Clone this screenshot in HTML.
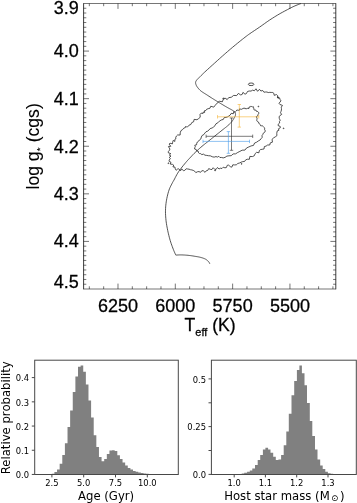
<!DOCTYPE html>
<html lang="en">
<head>
<meta charset="utf-8">
<title>Stellar evolutionary track and posterior distributions</title>
<style>
html,body{margin:0;padding:0;background:#fff;}
body{width:357px;height:503px;overflow:hidden;}
svg{display:block;}
text{white-space:pre;}
</style>
</head>
<body>
<svg width="357" height="503" viewBox="0 0 357 503">
<rect x="0" y="0" width="357" height="503" fill="#fff"/>
<g id="topplot" fill="none" stroke="#1a1a1a" stroke-width="0.75">
<path d="M83.6 3.2 V289.3 M335.8 3.2 V289.3" stroke-width="0.85"/>
<path d="M83.6 3.5 H335.8 M83.6 289 H335.8" stroke-width="0.6"/>
<path d="M89.33 289 v-2.7 M89.33 3.5 v2.7 M103.66 289 v-2.7 M103.66 3.5 v2.7 M117.99 289 v-5.4 M117.99 3.5 v5.4 M132.32 289 v-2.7 M132.32 3.5 v2.7 M146.65 289 v-2.7 M146.65 3.5 v2.7 M160.98 289 v-2.7 M160.98 3.5 v2.7 M175.31 289 v-5.4 M175.31 3.5 v5.4 M189.64 289 v-2.7 M189.64 3.5 v2.7 M203.97 289 v-2.7 M203.97 3.5 v2.7 M218.3 289 v-2.7 M218.3 3.5 v2.7 M232.63 289 v-5.4 M232.63 3.5 v5.4 M246.96 289 v-2.7 M246.96 3.5 v2.7 M261.29 289 v-2.7 M261.29 3.5 v2.7 M275.62 289 v-2.7 M275.62 3.5 v2.7 M289.95 289 v-5.4 M289.95 3.5 v5.4 M304.28 289 v-2.7 M304.28 3.5 v2.7 M318.6 289 v-2.7 M318.6 3.5 v2.7 M332.93 289 v-2.7 M332.93 3.5 v2.7 M83.6 8.26 h2.7 M335.8 8.26 h-2.7 M83.6 13.02 h2.7 M335.8 13.02 h-2.7 M83.6 17.77 h2.7 M335.8 17.77 h-2.7 M83.6 22.53 h2.7 M335.8 22.53 h-2.7 M83.6 27.29 h2.7 M335.8 27.29 h-2.7 M83.6 32.05 h2.7 M335.8 32.05 h-2.7 M83.6 36.81 h2.7 M335.8 36.81 h-2.7 M83.6 41.57 h2.7 M335.8 41.57 h-2.7 M83.6 46.32 h2.7 M335.8 46.32 h-2.7 M83.6 51.08 h5.4 M335.8 51.08 h-5.4 M83.6 55.84 h2.7 M335.8 55.84 h-2.7 M83.6 60.6 h2.7 M335.8 60.6 h-2.7 M83.6 65.36 h2.7 M335.8 65.36 h-2.7 M83.6 70.12 h2.7 M335.8 70.12 h-2.7 M83.6 74.87 h2.7 M335.8 74.87 h-2.7 M83.6 79.63 h2.7 M335.8 79.63 h-2.7 M83.6 84.39 h2.7 M335.8 84.39 h-2.7 M83.6 89.15 h2.7 M335.8 89.15 h-2.7 M83.6 93.91 h2.7 M335.8 93.91 h-2.7 M83.6 98.67 h5.4 M335.8 98.67 h-5.4 M83.6 103.43 h2.7 M335.8 103.43 h-2.7 M83.6 108.18 h2.7 M335.8 108.18 h-2.7 M83.6 112.94 h2.7 M335.8 112.94 h-2.7 M83.6 117.7 h2.7 M335.8 117.7 h-2.7 M83.6 122.46 h2.7 M335.8 122.46 h-2.7 M83.6 127.22 h2.7 M335.8 127.22 h-2.7 M83.6 131.98 h2.7 M335.8 131.98 h-2.7 M83.6 136.73 h2.7 M335.8 136.73 h-2.7 M83.6 141.49 h2.7 M335.8 141.49 h-2.7 M83.6 146.25 h5.4 M335.8 146.25 h-5.4 M83.6 151.01 h2.7 M335.8 151.01 h-2.7 M83.6 155.77 h2.7 M335.8 155.77 h-2.7 M83.6 160.52 h2.7 M335.8 160.52 h-2.7 M83.6 165.28 h2.7 M335.8 165.28 h-2.7 M83.6 170.04 h2.7 M335.8 170.04 h-2.7 M83.6 174.8 h2.7 M335.8 174.8 h-2.7 M83.6 179.56 h2.7 M335.8 179.56 h-2.7 M83.6 184.32 h2.7 M335.8 184.32 h-2.7 M83.6 189.08 h2.7 M335.8 189.08 h-2.7 M83.6 193.83 h5.4 M335.8 193.83 h-5.4 M83.6 198.59 h2.7 M335.8 198.59 h-2.7 M83.6 203.35 h2.7 M335.8 203.35 h-2.7 M83.6 208.11 h2.7 M335.8 208.11 h-2.7 M83.6 212.87 h2.7 M335.8 212.87 h-2.7 M83.6 217.62 h2.7 M335.8 217.62 h-2.7 M83.6 222.38 h2.7 M335.8 222.38 h-2.7 M83.6 227.14 h2.7 M335.8 227.14 h-2.7 M83.6 231.9 h2.7 M335.8 231.9 h-2.7 M83.6 236.66 h2.7 M335.8 236.66 h-2.7 M83.6 241.42 h5.4 M335.8 241.42 h-5.4 M83.6 246.18 h2.7 M335.8 246.18 h-2.7 M83.6 250.93 h2.7 M335.8 250.93 h-2.7 M83.6 255.69 h2.7 M335.8 255.69 h-2.7 M83.6 260.45 h2.7 M335.8 260.45 h-2.7 M83.6 265.21 h2.7 M335.8 265.21 h-2.7 M83.6 269.97 h2.7 M335.8 269.97 h-2.7 M83.6 274.72 h2.7 M335.8 274.72 h-2.7 M83.6 279.48 h2.7 M335.8 279.48 h-2.7 M83.6 284.24 h2.7 M335.8 284.24 h-2.7" stroke-width="0.6"/>
<path d="M301 3.5 L300.33 3.76 L299.41 4.1 L298.32 4.52 L297.14 4.97 L295.98 5.44 L294.9 5.9 L293.95 6.33 L293.06 6.74 L292.18 7.17 L291.25 7.64 L290.21 8.17 L289 8.8 L287.59 9.54 L286.02 10.36 L284.34 11.25 L282.61 12.19 L280.88 13.14 L279.2 14.1 L277.57 15.06 L275.93 16.04 L274.3 17.05 L272.67 18.08 L271.03 19.13 L269.4 20.2 L267.77 21.31 L266.13 22.45 L264.5 23.62 L262.87 24.79 L261.23 25.96 L259.6 27.1 L257.92 28.24 L256.19 29.4 L254.46 30.55 L252.79 31.67 L251.21 32.73 L249.8 33.7 L248.62 34.53 L247.66 35.23 L246.8 35.87 L245.94 36.53 L244.98 37.28 L243.8 38.2 L242.39 39.31 L240.81 40.56 L239.14 41.91 L237.41 43.3 L235.68 44.72 L234 46.1 L232.37 47.47 L230.73 48.85 L229.1 50.24 L227.47 51.65 L225.83 53.07 L224.2 54.5 L222.57 55.94 L220.93 57.4 L219.3 58.87 L217.67 60.34 L216.03 61.82 L214.4 63.3 L212.72 64.81 L210.99 66.37 L209.26 67.94 L207.58 69.46 L206.01 70.89 L204.6 72.2 L203.35 73.38 L202.21 74.49 L201.18 75.5 L200.26 76.43 L199.43 77.26 L198.7 78 L198.09 78.61 L197.61 79.1 L197.23 79.49 L196.92 79.83 L196.65 80.16 L196.4 80.5 L196.17 80.85 L195.98 81.18 L195.84 81.49 L195.73 81.79 L195.65 82.09 L195.6 82.4 L195.57 82.71 L195.58 83.01 L195.62 83.31 L195.69 83.61 L195.78 83.94 L195.9 84.3 L196.03 84.68 L196.18 85.07 L196.35 85.47 L196.57 85.91 L196.84 86.38 L197.2 86.9 L197.63 87.47 L198.11 88.1 L198.66 88.77 L199.27 89.45 L199.95 90.13 L200.7 90.8 L201.53 91.44 L202.45 92.08 L203.43 92.71 L204.46 93.36 L205.53 94.02 L206.6 94.7 L207.72 95.43 L208.89 96.19 L210.1 96.97 L211.31 97.74 L212.48 98.5 L213.6 99.2 L214.65 99.86 L215.67 100.48 L216.66 101.08 L217.62 101.66 L218.56 102.23 L219.5 102.8 L220.43 103.37 L221.35 103.93 L222.26 104.47 L223.14 105.01 L223.99 105.52 L224.8 106 L225.58 106.46 L226.33 106.89 L227.04 107.3 L227.73 107.69 L228.38 108.06 L229 108.4 L229.58 108.71 L230.12 108.99 L230.63 109.25 L231.1 109.5 L231.56 109.74 L232 110 L232.43 110.27 L232.83 110.53 L233.22 110.8 L233.58 111.07 L233.91 111.33 L234.2 111.6 L234.46 111.87 L234.68 112.13 L234.87 112.4 L235.04 112.67 L235.18 112.93 L235.3 113.2 L235.39 113.47 L235.46 113.73 L235.5 114 L235.52 114.27 L235.52 114.53 L235.5 114.8 L235.47 115.05 L235.42 115.29 L235.36 115.53 L235.27 115.79 L235.15 116.07 L235 116.4 L234.81 116.79 L234.59 117.21 L234.34 117.68 L234.07 118.15 L233.78 118.63 L233.5 119.1 L233.21 119.56 L232.92 120.03 L232.62 120.5 L232.3 120.97 L231.96 121.44 L231.6 121.9 L231.21 122.36 L230.79 122.82 L230.36 123.28 L229.91 123.73 L229.45 124.17 L229 124.6 L228.55 125.02 L228.1 125.42 L227.64 125.81 L227.17 126.2 L226.69 126.6 L226.2 127 L225.73 127.38 L225.3 127.71 L224.86 128.05 L224.36 128.43 L223.76 128.9 L223 129.5 L222.05 130.25 L220.95 131.14 L219.74 132.11 L218.47 133.12 L217.21 134.13 L216 135.1 L214.83 136.03 L213.67 136.97 L212.5 137.9 L211.33 138.83 L210.17 139.77 L209 140.7 L207.83 141.63 L206.67 142.54 L205.5 143.46 L204.33 144.38 L203.17 145.33 L202 146.3 L200.8 147.33 L199.56 148.42 L198.33 149.53 L197.13 150.61 L196 151.65 L195 152.6 L194.15 153.43 L193.43 154.16 L192.78 154.84 L192.16 155.51 L191.52 156.22 L190.8 157 L190.03 157.82 L189.24 158.65 L188.43 159.51 L187.58 160.43 L186.68 161.45 L185.7 162.6 L184.6 163.92 L183.39 165.4 L182.12 166.98 L180.86 168.6 L179.66 170.19 L178.6 171.7 L177.66 173.19 L176.78 174.71 L175.97 176.22 L175.23 177.64 L174.58 178.92 L174 180 L173.55 180.79 L173.24 181.31 L173.01 181.69 L172.8 182.05 L172.55 182.51 L172.2 183.2 L171.74 184.1 L171.21 185.11 L170.64 186.22 L170.07 187.43 L169.51 188.72 L169 190.1 L168.53 191.6 L168.06 193.23 L167.61 194.96 L167.2 196.72 L166.82 198.49 L166.5 200.2 L166.23 201.87 L166 203.54 L165.81 205.2 L165.67 206.86 L165.56 208.53 L165.5 210.2 L165.48 211.88 L165.51 213.56 L165.58 215.24 L165.69 216.93 L165.83 218.62 L166 220.3 L166.2 221.98 L166.45 223.67 L166.72 225.35 L167.03 227.03 L167.36 228.72 L167.7 230.4 L168.06 232.1 L168.45 233.81 L168.86 235.53 L169.29 237.23 L169.74 238.89 L170.2 240.5 L170.69 242.08 L171.21 243.64 L171.75 245.17 L172.29 246.64 L172.81 248.02 L173.3 249.3 L173.78 250.51 L174.27 251.67 L174.74 252.75 L175.17 253.71 L175.53 254.5 L175.8 255.1 L175.8 255.1 L176.31 255.07 L177.01 255.03 L177.84 254.99 L178.74 254.94 L179.65 254.91 L180.5 254.9 L181.3 254.91 L182.11 254.93 L182.93 254.96 L183.74 255 L184.57 255.04 L185.4 255.1 L186.24 255.16 L187.09 255.23 L187.94 255.31 L188.8 255.4 L189.65 255.5 L190.5 255.6 L191.35 255.72 L192.21 255.85 L193.07 255.99 L193.91 256.13 L194.73 256.27 L195.5 256.4 L196.23 256.52 L196.93 256.63 L197.59 256.74 L198.24 256.85 L198.87 256.97 L199.5 257.1 L200.12 257.25 L200.74 257.41 L201.34 257.58 L201.92 257.75 L202.47 257.92 L203 258.1 L203.49 258.27 L203.96 258.44 L204.39 258.62 L204.81 258.8 L205.21 258.99 L205.6 259.2 L205.97 259.43 L206.33 259.67 L206.68 259.93 L207 260.19 L207.31 260.45 L207.6 260.7 L207.88 260.95 L208.13 261.19 L208.38 261.44 L208.6 261.69 L208.81 261.94 L209 262.2 L209.18 262.49 L209.34 262.81 L209.49 263.14 L209.61 263.45 L209.72 263.71 L209.8 263.9" stroke-linejoin="miter"/>
<path d="M254.38 90.76 L252.6 90.16 L251.04 91.1 L249.14 91.01 L247.47 91.53 L246.39 93.6 L245 94.2 L242.95 92.37 L242.19 94.4 L240.77 94.96 L238.35 93.43 L236.61 95.6 L233.67 95.42 L231.29 97.27 L228.69 97.61 L227.19 99.57 L225.7 98.53 L225.13 97.93 L224.95 98.95 L224.2 98.56 L223.26 99.26 L222.42 101.75 L219.25 101.26 L217.14 103.1 L215.28 105.23 L213.75 107.14 L210.75 106.25 L209.94 108.25 L208.17 108.7 L206.67 109.27 L205.83 110.5 L204.53 110.69 L204.64 112.47 L203.24 112.01 L203.08 113.43 L201.18 113.14 L200.05 114.35 L200.19 117.28 L198.65 118.56 L196.99 119.75 L194.12 119.37 L193.64 121.77 L191.75 122.58 L190.82 124.51 L189.09 125.11 L188.21 126.26 L187.57 126.9 L186.78 126.66 L186.52 126.87 L185.53 126.53 L185.33 127.62 L183.79 128.12 L182.64 129.55 L180.95 130.69 L180.23 132.76 L180.14 135.04 L177.59 134.98 L176.44 136.05 L175.78 137.31 L175.82 138.94 L174.75 139.58 L174.94 141.38 L173.08 140.5 L172.75 141.61 L172.57 142.79 L172.47 143.81 L170.03 143.26 L169.05 144.05 L170.8 146.29 L168.46 146.54 L169.26 147.94 L169.92 149.03 L169.57 150.12 L168.37 151.5 L168.27 152.76 L170.81 153.66 L169.27 155.02 L171 156.09 L169.16 157.47 L170.43 158.52 L169.13 160.07 L169.22 161.44 L170.97 162.25 L170.15 164.04 L172.51 164.38 L173.67 165.11 L172.94 166.89 L174.93 167.04 L175.12 168.15 L175.39 169.27 L176.1 170.31 L177.41 169.17 L178.6 168.73 L180.48 170.82 L181.73 168.94 L183.42 170.62 L184.8 170.37 L186.16 168.78 L187.62 168.98 L189.06 169.19 L190.42 169.71 L191.84 169.94 L193.28 170.39 L194.63 171.17 L195.81 172.6 L197.6 171.72 L199.03 171.57 L200.54 172.33 L201.81 170.75 L203.27 170.69 L205.06 172.36 L206.24 170.77 L207.68 170.48 L208.7 168.59 L210.43 169.35 L211.94 169.53 L213.17 167.73 L214.76 169.33 L216.18 169.29 L217.44 167.52 L219.06 168.96 L220.42 168.22 L222.02 168.48 L223.24 167.19 L224.93 167.82 L226.35 167.57 L227.3 165.26 L228.65 165.13 L230.29 166.65 L231.85 167.17 L232.81 164.8 L234.54 164.93 L236.32 164.8 L237.78 163.49 L239.51 163 L241.09 162.2 L242.71 161.64 L244.54 161.47 L245.65 159.9 L247.27 159.23 L249.42 159.27 L249.83 156.42 L252.36 156.58 L254.28 155.79 L255.16 153.63 L256.54 152.34 L258.91 152.78 L259.36 150.53 L260.58 149.56 L262.27 149.29 L264.04 148.96 L264.37 146.57 L266.12 146.08 L267.49 145.06 L269.79 144.98 L270.27 142.88 L272.44 142.16 L272.04 139.33 L273.58 137.92 L275.41 136.75 L276.94 135.6 L276.75 133.6 L276.99 132.03 L277.4 130.78 L279 130.21 L278.42 128.82 L280.3 127.79 L280.24 126.46 L278.12 125.59 L278.18 124.25 L279.69 122.96 L279.41 121.61 L280.21 120.31 L279.32 118.51 L279.12 116.88 L279.91 115.56 L281.65 114.47 L280.52 112.71 L281.03 111.36 L281.43 110.01 L281.47 108.61 L281.29 107.18 L282.46 105.39 L279.91 104.49 L279.03 103.27 L280.97 100.86 L280.12 99.57 L279.6 98.06 L277.42 97.71 L277.64 95.61 L276.53 94.58 L274.2 95.34 L273.88 93.37 L272.74 92.52 L271.27 92.45 L269.82 92.35 L268.28 92.54 L266.95 92.02 L265.46 92.01 L263.91 92.19 L262.64 90.45 L260.92 91.06 L259.48 89.31 L257.57 91.32 L255.98 88.76 Z"/>
<path d="M250.81 106.28 L250.34 106.92 L249.06 107.02 L248.94 108.51 L247.68 108.34 L246.81 108.65 L245.73 108.9 L245.02 107.88 L244.13 108.59 L243.2 108.08 L242.48 108.97 L241.59 109.29 L240.55 109.12 L239.59 108.8 L239.57 110.16 L238.92 110.33 L237.9 110.11 L236.82 110.08 L236.23 111.12 L235.39 111.94 L233.81 111.69 L233.3 113.77 L231.22 113.33 L230.22 114.99 L228.9 116.02 L227.57 116.87 L226.06 117.41 L224.21 117.57 L223.3 119.45 L221.24 120.01 L219.37 121.17 L217.81 122.82 L215.95 123.84 L214.99 125.7 L213.62 126.95 L212.1 128 L210.21 128.56 L209.04 129.97 L207.69 131.12 L206.01 131.75 L204.86 133.06 L203.9 134.53 L202.16 135.47 L201.29 137.02 L200.95 138.85 L199.55 139.82 L198.71 141.11 L197.36 141.98 L196.78 143.27 L196.56 144.82 L194.77 145.17 L195.4 146.91 L194.74 147.69 L194.59 149 L196.24 149.55 L196.81 150.98 L198.3 151.29 L198.57 152.83 L199.5 153.52 L200.72 153.68 L201.8 154.61 L203.53 154.14 L204.97 155.19 L206.72 155.41 L208.48 155.73 L210.36 155.83 L212.25 156.74 L214.16 157.14 L216.01 156.56 L217.4 157.1 L218.8 156.3 L219.92 157.53 L221.41 157.45 L223.2 157.9 L225.07 157.37 L226.88 156.11 L228.95 155.81 L231.21 155.69 L233.1 153.94 L235.61 153.84 L237.68 152.48 L239.89 151.4 L242.11 150.2 L244.93 150.09 L246.6 147.95 L248.83 146.94 L251.06 145.95 L253.5 145.4 L254.58 143.03 L256.63 142.2 L258.3 140.96 L260.1 139.97 L261.22 138.54 L262.21 137.3 L262.01 135.61 L262.75 134.55 L263.18 133.3 L264.61 132.35 L265.35 130.98 L264.51 129.25 L264.65 128.37 L264.49 127.81 L263.89 127.34 L263.28 126.52 L262.58 125.87 L261.56 125.81 L260.58 125.69 L260.24 124.59 L259.46 124.07 L258.89 123.18 L258.52 122.04 L257.54 121.65 L256.83 120.89 L256.86 119.67 L257.05 118.26 L256.22 116.65 L257.86 115.67 L257.99 114.66 L258.61 113.85 L258.91 112.87 L258.23 112.07 L257.7 111.47 L256.48 111.36 L255.84 110.02 L254.35 110.1 L253.8 109.1 L253.79 108.11 L253.54 107.41 L253.51 106.79 L252.76 106.9 L252.14 106.79 L251.51 106.48 Z"/>
<ellipse cx="251.1" cy="84.3" rx="2.8" ry="1.3"/>
<circle cx="223.3" cy="98.5" r="0.5"/>
<circle cx="278.3" cy="97.6" r="0.55"/><circle cx="283.6" cy="128.3" r="0.4"/><circle cx="258.4" cy="106.5" r="0.4"/>
<circle cx="241.6" cy="163.9" r="0.4"/><circle cx="215.1" cy="170.4" r="0.45"/><circle cx="168.3" cy="163.2" r="0.4"/>
<path d="M217.5 116.8 H258.8 M239.3 104.5 V127.1 M217.5 115.1 v3.4 M258.8 115.1 v3.4 M237.6 104.5 h3.4 M237.6 127.1 h3.4" stroke="#f6b438" stroke-width="0.62"/>
<path d="M206.1 136.3 H252.7 M231.5 118 V150.3 M206.1 134.6 v3.4 M252.7 134.6 v3.4 M229.8 118 h3.4 M229.8 150.3 h3.4" stroke="#2a2a2a" stroke-width="0.62"/>
<path d="M203 141.4 H249.5 M228.4 131.6 V153.3 M203 139.7 v3.4 M249.5 139.7 v3.4 M226.7 131.6 h3.4 M226.7 153.3 h3.4" stroke="#4a9eea" stroke-width="0.62"/>
</g>
<g font-family="'Liberation Sans', Arial, Helvetica, sans-serif" font-size="17.6" fill="#000" stroke="#000" stroke-width="0.28">
<text x="78.9" y="13.9" text-anchor="end" font-size="18">3.9</text>
<text x="78.9" y="57.2" text-anchor="end" font-size="18">4.0</text>
<text x="78.9" y="104.9" text-anchor="end" font-size="18">4.1</text>
<text x="78.9" y="152.5" text-anchor="end" font-size="18">4.2</text>
<text x="78.9" y="199.9" text-anchor="end" font-size="18">4.3</text>
<text x="78.9" y="247.4" text-anchor="end" font-size="18">4.4</text>
<text x="78.9" y="288.2" text-anchor="end" font-size="18">4.5</text>
<text x="117.99" y="312.3" text-anchor="middle" font-size="18">6250</text>
<text x="175.31" y="312.3" text-anchor="middle" font-size="18">6000</text>
<text x="232.63" y="312.3" text-anchor="middle" font-size="18">5750</text>
<text x="289.95" y="312.3" text-anchor="middle" font-size="18">5500</text>
<text x="210.1" y="331.4" text-anchor="middle">T<tspan font-size="10.9" dy="4.5">eff</tspan><tspan dy="-4.5"> (K)</tspan></text>
<text transform="translate(39.4 146.4) rotate(-90)" text-anchor="middle" stroke-width="0.08">log g<tspan font-size="9.6" dy="3.9">*</tspan><tspan dy="-3.9" dx="0.4"> (cgs)</tspan></text>
</g>
<path d="M51.8 474.4 L51.8 473.8 L54.42 473.8 L54.42 472.1 L57.04 472.1 L57.04 469.6 L59.66 469.6 L59.66 463.7 L62.28 463.7 L62.28 455 L64.9 455 L64.9 443.2 L67.52 443.2 L67.52 427.1 L70.14 427.1 L70.14 410.5 L72.76 410.5 L72.76 392 L75.38 392 L75.38 376.5 L78 376.5 L78 366.8 L80.62 366.8 L80.62 365.4 L83.24 365.4 L83.24 371.8 L85.86 371.8 L85.86 384.4 L88.48 384.4 L88.48 400.4 L91.1 400.4 L91.1 417.5 L93.72 417.5 L93.72 435.2 L96.34 435.2 L96.34 446.9 L98.96 446.9 L98.96 457 L101.58 457 L101.58 461.2 L104.2 461.2 L104.2 459 L106.82 459 L106.82 454 L109.44 454 L109.44 450.6 L112.06 450.6 L112.06 450.3 L114.68 450.3 L114.68 451.1 L117.3 451.1 L117.3 455.3 L119.92 455.3 L119.92 459 L122.54 459 L122.54 462.4 L125.16 462.4 L125.16 465.4 L127.78 465.4 L127.78 467.9 L130.4 467.9 L130.4 469.6 L133.02 469.6 L133.02 471 L135.64 471 L135.64 471.8 L138.26 471.8 L138.26 472.5 L140.88 472.5 L140.88 473.1 L143.5 473.1 L143.5 473.5 L146.12 473.5 L146.12 473.7 L148.74 473.7 L148.74 474.4 Z" fill="#808080"/>
<path d="M241.7 474.4 L241.7 473.5 L244.2 473.5 L244.2 472.8 L247.1 472.8 L247.1 471.8 L249.8 471.8 L249.8 470.5 L252.3 470.5 L252.3 468.4 L255 468.4 L255 465.1 L257.7 465.1 L257.7 460 L260.2 460 L260.2 455 L262.9 455 L262.9 449.5 L265.4 449.5 L265.4 447.8 L268.1 447.8 L268.1 449.5 L270.5 449.5 L270.5 452.8 L273.2 452.8 L273.2 456.7 L275.8 456.7 L275.8 460 L278.4 460 L278.4 459.5 L281.1 459.5 L281.1 455 L283.7 455 L283.7 445.3 L286.3 445.3 L286.3 431.5 L288.8 431.5 L288.8 413.8 L291.5 413.8 L291.5 395.3 L294.2 395.3 L294.2 381.1 L296.9 381.1 L296.9 370.1 L299.4 370.1 L299.4 365.4 L301.9 365.4 L301.9 373.2 L304.5 373.2 L304.5 385.3 L307 385.3 L307 402.9 L309.8 402.9 L309.8 420.9 L312.3 420.9 L312.3 436 L315 436 L315 449.5 L317.5 449.5 L317.5 459.5 L320.2 459.5 L320.2 465.4 L322.7 465.4 L322.7 469.1 L325.3 469.1 L325.3 471.8 L327.9 471.8 L327.9 473.2 L330.6 473.2 L330.6 473.7 L333.2 473.7 L333.2 474.4 Z" fill="#808080"/>
<g fill="none" stroke="#484848" stroke-width="1.0">
<rect x="34.7" y="360.2" width="143.6" height="114.3"/>
<rect x="211.4" y="360.2" width="144.9" height="114.3"/>
<path d="M34.7 474.45 h-2.9 M34.7 450.25 h-2.9 M34.7 426.05 h-2.9 M34.7 401.85 h-2.9 M34.7 377.6 h-2.9 M51.9 474.5 v2.9 M83.7 474.5 v2.9 M115.5 474.5 v2.9 M147.3 474.5 v2.9 M211.4 474.4 h-2.9 M211.4 450.5 h-2.9 M211.4 426.6 h-2.9 M211.4 402.8 h-2.9 M211.4 378.9 h-2.9 M234.2 474.5 v2.9 M265.4 474.5 v2.9 M296.7 474.5 v2.9 M328 474.5 v2.9"/>
</g>
<g font-family="'DejaVu Sans', Verdana, sans-serif" font-size="8.4" fill="#000">
<text x="29.1" y="478.1" text-anchor="end">0.0</text>
<text x="29.1" y="453.9" text-anchor="end">0.1</text>
<text x="29.1" y="429.7" text-anchor="end">0.2</text>
<text x="29.1" y="405.5" text-anchor="end">0.3</text>
<text x="29.1" y="381.25" text-anchor="end">0.4</text>
<text x="51.9" y="485.9" text-anchor="middle">2.5</text>
<text x="83.7" y="485.9" text-anchor="middle">5.0</text>
<text x="115.5" y="485.9" text-anchor="middle">7.5</text>
<text x="147.3" y="485.9" text-anchor="middle">10.0</text>
<text x="206.0" y="478.05" text-anchor="end">0.0</text>
<text x="206.0" y="430.25" text-anchor="end">0.25</text>
<text x="206.0" y="382.55" text-anchor="end">0.5</text>
<text x="234.2" y="485.9" text-anchor="middle">1.0</text>
<text x="265.4" y="485.9" text-anchor="middle">1.1</text>
<text x="296.7" y="485.9" text-anchor="middle">1.2</text>
<text x="328" y="485.9" text-anchor="middle">1.3</text>
<text x="106.1" y="499.7" text-anchor="middle" font-size="11.67">Age (Gyr)</text>
<text x="329.7" y="499.7" text-anchor="end" font-size="11.67">Host star mass (M</text>
<text x="330.9" y="500.9" font-size="8.8">⊙</text>
<text x="340.1" y="499.7" font-size="11.67">)</text>
<text transform="translate(9.7 417.8) rotate(-90)" text-anchor="middle" font-size="11.67">Relative probability</text>
</g>
</svg>
</body>
</html>
